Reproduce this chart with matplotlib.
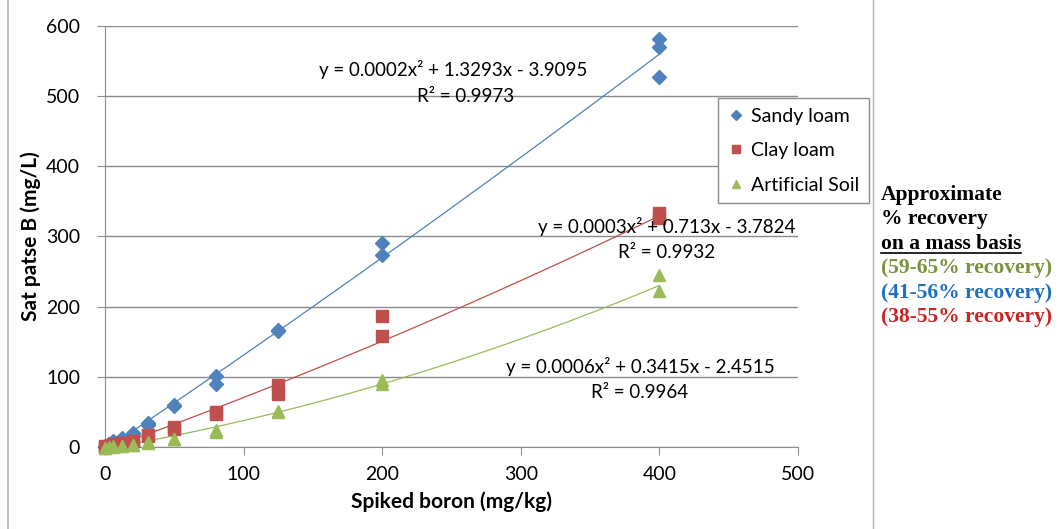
import numpy as np
import matplotlib
matplotlib.use("Agg")
import matplotlib.pyplot as plt
from matplotlib.lines import Line2D

# spiked boron levels (mg/kg) and measured sat paste B (mg/L), replicates
sandy_x = [0, 0, 3, 6, 6, 12.5, 12.5, 20, 20, 31, 31, 50, 50, 80, 80, 125, 125, 200, 200, 400, 400, 400]
sandy_y = [0, 1, 4, 7, 8, 13, 12, 20, 19, 34, 32, 60, 58, 101, 90, 167, 165, 291, 273, 582, 570, 528]
clay_x = [0, 0, 3, 6, 6, 12.5, 12.5, 20, 20, 31, 31, 50, 50, 80, 80, 125, 125, 200, 200, 400, 400]
clay_y = [0, 1, 2, 4, 3, 6, 5, 9, 8, 17, 15, 28, 26, 50, 47, 88, 75, 187, 158, 333, 326]
art_x = [0, 0, 3, 6, 6, 12.5, 12.5, 20, 20, 31, 31, 50, 50, 80, 80, 125, 125, 200, 200, 400, 400]
art_y = [-2, -1, 0, 1, 0, 2, 1, 3, 3, 7, 6, 12, 11, 24, 22, 51, 50, 95, 90, 245, 222]

# Excel polynomial trendline coefficients (a, b, c) for y = a x^2 + b x + c
sandy_fit = [0.0002, 1.3293, -3.9095]
clay_fit = [0.0003, 0.713, -3.7824]
art_fit = [0.0006, 0.3415, -2.4515]

c_blue = '#4F81BD'
c_red = '#C0504D'
c_green = '#9BBB59'

plt.rcParams['font.family'] = ['Lato', 'DejaVu Sans']

fig = plt.figure(figsize=(10.59, 5.29), dpi=100)
ax = fig.add_axes([105 / 1059, 1 - 447 / 529, (798 - 105) / 1059, (447 - 26) / 529])

xx = np.linspace(0, 400, 200)
for fit, col in [(sandy_fit, c_blue), (clay_fit, c_red), (art_fit, c_green)]:
    ax.plot(xx, np.polyval(fit, xx), color=col, lw=0.9, zorder=2)

ax.plot(sandy_x, sandy_y, 'D', color=c_blue, ms=7, ls='none', label='Sandy loam', clip_on=False, zorder=3)
ax.plot(clay_x, clay_y, 's', color=c_red, ms=8, ls='none', label='Clay loam', clip_on=False, zorder=3)
ax.plot(art_x, art_y, '^', color=c_green, ms=8.5, ls='none', label='Artificial Soil', clip_on=False, zorder=3)

ax.set_xlim(0, 500)
ax.set_ylim(0, 600)
ax.set_xticks(range(0, 501, 100))
ax.set_yticks(range(0, 601, 100))
ax.yaxis.grid(True, color='#8c8c8c', lw=1)
ax.set_axisbelow(True)
for s in ['top', 'right']:
    ax.spines[s].set_visible(False)
for s in ['left', 'bottom']:
    ax.spines[s].set_color('#8c8c8c')
ax.tick_params(colors='#8c8c8c', labelcolor='black', labelsize=14, length=6)
ax.tick_params(axis='x', pad=8)
ax.tick_params(axis='y', pad=12)
ax.set_xlabel('Spiked boron (mg/kg)', fontsize=15, fontweight='bold', labelpad=6)
ax.set_ylabel('Sat patse B (mg/L)', fontsize=15, fontweight='bold')
ax.yaxis.set_label_coords(-64 / 693, 0.50, transform=ax.transAxes)

def eq_text(fit):
    a, b, c = fit
    return 'y = %gx\u00b2 + %gx - %g' % (a, b, abs(c))

eqs = [(sandy_fit, '0.9973', 453, 70, 466, 96),
       (clay_fit, '0.9932', 667, 226, 667, 252),
       (art_fit, '0.9964', 640, 367, 640, 393)]
for fit, r2, x1, y1, x2, y2 in eqs:
    fig.text(x1 / 1059, 1 - y1 / 529, eq_text(fit), ha='center', va='center', fontsize=13.5)
    fig.text(x2 / 1059, 1 - y2 / 529, 'R\u00b2 = ' + r2, ha='center', va='center', fontsize=13.5)

leg = ax.legend(loc='upper left', bbox_to_anchor=(718 / 1059, 1 - 98 / 529), bbox_transform=fig.transFigure,
                fontsize=14, frameon=True, fancybox=False, edgecolor='#8c8c8c', framealpha=1,
                handlelength=0.8, handletextpad=0.4, borderpad=0.5, labelspacing=0.9, markerscale=0.7,
                borderaxespad=0)
leg.get_frame().set_linewidth(1)

# outer chart border
fig.add_artist(Line2D([873 / 1059, 873 / 1059], [0, 1], color='#b0b0b0', lw=1))
fig.add_artist(Line2D([8 / 1059, 8 / 1059], [0, 1], color='#c0c0c0', lw=1.5))

# recovery notes
notes = [('Approximate', 'black'), ('% recovery', 'black'), ('on a mass basis', 'black'),
         ('(59-65% recovery)', '#77933C'), ('(41-56% recovery)', '#1F6FC0'), ('(38-55% recovery)', '#CC2222')]
note_objs = []
for i, (t, col) in enumerate(notes):
    note_objs.append(fig.text(881 / 1059, 1 - (195 + i * 24.4) / 529, t, ha='left', va='center',
                              fontsize=15.5, fontweight='bold', color=col, family='Liberation Serif'))

fig.canvas.draw()
bb = note_objs[2].get_window_extent().transformed(fig.transFigure.inverted())
fig.add_artist(Line2D([bb.x0, bb.x1], [bb.y0 + 0.002, bb.y0 + 0.002], color='black', lw=1.2))

fig.savefig('out.png', dpi=100)
